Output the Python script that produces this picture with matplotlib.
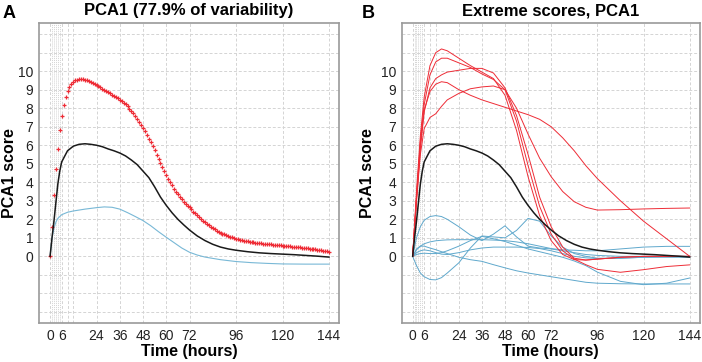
import numpy as np
import matplotlib
matplotlib.use('Agg')
from matplotlib import pyplot as pl

pl.rcParams['font.family'] = ['Liberation Sans', 'DejaVu Sans']

# Panel A: hourly upper band (red +), mean (black), lower band (blue)
hours = list(range(0, 145))
upper = [0, 1.6, 3.3, 4.7, 5.8, 6.8, 7.6, 8.2, 8.6, 8.95,
         9.15, 9.3, 9.42, 9.5, 9.55, 9.58, 9.58, 9.57, 9.54, 9.5,
         9.46, 9.41, 9.35, 9.3, 9.24, 9.18, 9.12, 9.06, 9.0, 8.94,
         8.88, 8.81, 8.74, 8.67, 8.6, 8.53, 8.45, 8.37, 8.29, 8.21,
         8.1, 7.98, 7.85, 7.72, 7.58, 7.43, 7.27, 7.1, 6.93, 6.75,
         6.56, 6.36, 6.15, 5.94, 5.72, 5.5, 5.28, 5.05, 4.83, 4.61,
         4.4, 4.2, 4.01, 3.83, 3.66, 3.5, 3.35, 3.21, 3.08, 2.96,
         2.85, 2.74, 2.64, 2.53, 2.42, 2.32, 2.22, 2.12, 2.02, 1.93,
         1.84, 1.75, 1.67, 1.59, 1.52, 1.45, 1.39, 1.33, 1.28, 1.23,
         1.18, 1.14, 1.10, 1.06, 1.02, 0.98, 0.95, 0.92, 0.89, 0.87,
         0.85, 0.83, 0.81, 0.79, 0.77, 0.76, 0.74, 0.73, 0.71, 0.70,
         0.69, 0.68, 0.66, 0.65, 0.64, 0.63, 0.62, 0.61, 0.60, 0.59,
         0.58, 0.57, 0.56, 0.55, 0.54, 0.52, 0.51, 0.50, 0.49, 0.48,
         0.46, 0.45, 0.44, 0.43, 0.41, 0.40, 0.39, 0.37, 0.36, 0.34,
         0.33, 0.31, 0.29, 0.27, 0.25]

mean_t = [0, 1, 2, 3, 4, 5, 6, 9, 12, 15, 18, 21, 24, 27, 30, 33, 36, 39,
          42, 45, 48, 51, 54, 57, 60, 63, 66, 69, 72, 76, 80, 84, 88, 92,
          96, 102, 108, 114, 120, 126, 132, 138, 144]
mean = [0, 1.0, 1.9, 2.9, 3.9, 4.6, 5.1, 5.7, 5.95, 6.05, 6.08, 6.05,
        6.0, 5.92, 5.8, 5.7, 5.58, 5.42, 5.2, 4.95, 4.6, 4.25, 3.75,
        3.2, 2.75, 2.35, 2.0, 1.7, 1.42, 1.1, 0.85, 0.65, 0.5, 0.4,
        0.33, 0.25, 0.19, 0.15, 0.12, 0.09, 0.05, 0.01, -0.04]

lower_t = [0, 1, 2, 3, 4, 5, 6, 9, 12, 18, 24, 28, 32, 36, 40, 44, 48,
           52, 56, 60, 64, 68, 72, 76, 80, 88, 96, 104, 112, 120, 132, 144]
lower = [0, 1.0, 1.5, 1.85, 2.05, 2.15, 2.25, 2.38, 2.45, 2.55, 2.63,
         2.67, 2.65, 2.55, 2.36, 2.15, 1.93, 1.65, 1.33, 1.03, 0.74,
         0.45, 0.22, 0.07, -0.04, -0.18, -0.28, -0.34, -0.38, -0.41,
         -0.42, -0.42]

# Panel B: extreme individual score curves
tb = [0, 2, 4, 6, 9, 12, 15, 18, 24, 30, 36, 42, 48, 54, 60, 66, 72, 78,
      84, 90, 96, 108, 120, 132, 144]
red_curves = [
    [0, 3.5, 6.5, 8.6, 10.3, 11.0, 11.2, 11.1, 10.7, 10.3, 9.95, 9.6,
     8.7, 6.8, 4.3, 2.2, 0.85, 0.1, -0.18, -0.2, -0.15, -0.05, 0, 0, 0],
    [0, 3.2, 6.2, 8.2, 9.8, 10.5, 10.7, 10.7, 10.45, 10.2, 9.85, 9.55,
     9.0, 7.3, 4.9, 2.7, 1.2, 0.3, -0.15, -0.45, -0.7, -0.86, -0.72,
     -0.55, -0.46],
    [0, 3.0, 5.8, 7.8, 9.1, 9.6, 9.8, 9.95, 10.05, 10.15, 10.15, 9.9,
     9.1, 7.6, 5.5, 3.2, 1.6, 0.5, -0.1, -0.2, -0.15, -0.05, 0, 0, 0],
    [0, 3.2, 6.0, 7.9, 8.9, 9.3, 9.43, 9.38, 9.0, 8.7, 8.45, 8.25, 8.05,
     7.85, 7.65, 7.4, 7.0, 6.4, 5.7, 4.9, 4.2, 3.0, 1.9, 0.95, 0],
    [0, 3.0, 5.5, 6.9, 7.5, 7.7, 8.1, 8.45, 8.8, 9.05, 9.15, 9.2, 9.0,
     8.0, 6.6, 5.3, 4.3, 3.5, 2.95, 2.65, 2.5, 2.52, 2.56, 2.59, 2.61],
]
blue_curves = [
    [0, 1.0, 1.6, 1.95, 2.15, 2.2, 2.15, 2.0, 1.6, 1.15, 0.85, 1.2, 1.65,
     1.05, 0.55, 0.45, 0.4, 0.3, 0.2, 0.1, 0.05, 0, 0, 0, 0],
    [0, -0.5, -0.9, -1.1, -1.25, -1.27, -1.15, -0.9, -0.35, 0.45, 1.1,
     1.05, 1.0, 1.4, 2.05, 1.9, 1.1, 0.5, 0.15, 0, -0.1, -0.1, -0.05,
     -0.05, -0.05],
    [0, 0.35, 0.55, 0.68, 0.78, 0.84, 0.87, 0.89, 0.9, 0.9, 0.9, 0.88,
     0.85, 0.78, 0.68, 0.55, 0.42, 0.35, 0.33, 0.3, 0.3, 0.4, 0.5, 0.54,
     0.54],
    [0, 0.4, 0.55, 0.55, 0.45, 0.36, 0.25, 0.15, -0.05, -0.18, -0.27,
     -0.45, -0.62, -0.78, -0.9, -1.0, -1.1, -1.2, -1.3, -1.4, -1.45,
     -1.48, -1.49, -1.49, -1.49],
    [0, 0.1, 0.15, 0.17, 0.15, 0.15, 0.2, 0.3, 0.55, 0.85, 1.08, 0.95,
     0.8, 0.6, 0.4, 0.25, 0.1, -0.05, -0.25, -0.5, -0.85, -1.35, -1.53,
     -1.45, -1.17],
    [0, 0.2, 0.3, 0.35, 0.3, 0.2, 0.12, 0.1, 0.2, 0.35, 0.45, 0.5, 0.5,
     0.5, 0.48, 0.42, 0.3, 0.15, 0, -0.08, -0.12, -0.1, -0.05, 0, 0],
]

xticks = [0, 6, 24, 36, 48, 60, 72, 96, 120, 144]
xgrid = [0, 6, 9, 12, 24, 36, 48, 60, 72, 96, 120, 144]
xgrid_fine = [1, 2, 3, 4, 5]
yticks = list(range(0, 11))
ygrid = list(range(-3, 13))

red = '#ee2c36'
blue = '#5fa8cc'
gridc = '#d4d4d4'


def frame(ax, title, ypad):
    '''
    Common styling for both panels.
    '''
    ax.set_xlim(-5.7, 149.2)
    ax.set_ylim(-3.6, 12.6)
    for x in xgrid:
        ax.axvline(x, color=gridc, lw=0.7, ls=(0, (3, 2)), zorder=0)
    for x in xgrid_fine:
        ax.axvline(x, color=gridc, lw=0.7, ls=(0, (1, 1)), zorder=0)
    for y in ygrid:
        ax.axhline(y, color=gridc, lw=0.7, ls=(0, (3, 2)), zorder=0)
    ax.set_xticks(xticks)
    ax.set_yticks(yticks)
    ax.tick_params(length=0, labelsize=10, pad=4, colors='#222222')
    for s in ax.spines.values():
        s.set_color('#9a9a9a')
        s.set_linewidth(1.2)
    ax.set_title(title, fontsize=12, fontweight='bold', pad=5.5)
    ax.set_xlabel('Time (hours)', fontsize=11.5, fontweight='bold',
                  labelpad=1)
    ax.set_ylabel('PCA1 score', fontsize=11.5, fontweight='bold',
                  labelpad=ypad)


fig = pl.figure(figsize=(7.02, 3.62), dpi=100)
axa = fig.add_axes([0.0556, 0.1077, 0.4274, 0.8287])
axb = fig.add_axes([0.5722, 0.1077, 0.4245, 0.8287])

frame(axa, 'PCA1 (77.9% of variability)', 1)
axa.plot(lower_t, lower, color='#78b8d6', lw=0.8)
axa.plot(hours, upper, linestyle='none', marker='+', color=red,
         markersize=3.5, mew=0.9)
axa.plot(mean_t, mean, color='#1a1a1a', lw=1.1)

frame(axb, 'Extreme scores, PCA1', 4)
for c in blue_curves:
    axb.plot(tb, c, color=blue, lw=0.7)
for c in red_curves:
    axb.plot(tb, c, color=red, lw=0.7)
axb.plot(mean_t, mean, color='#1a1a1a', lw=1.1)

fig.text(0.004, 0.985, 'A', fontsize=13, fontweight='bold', va='top')
fig.text(0.516, 0.985, 'B', fontsize=13, fontweight='bold', va='top')

fig.savefig('out.png', dpi=100)
